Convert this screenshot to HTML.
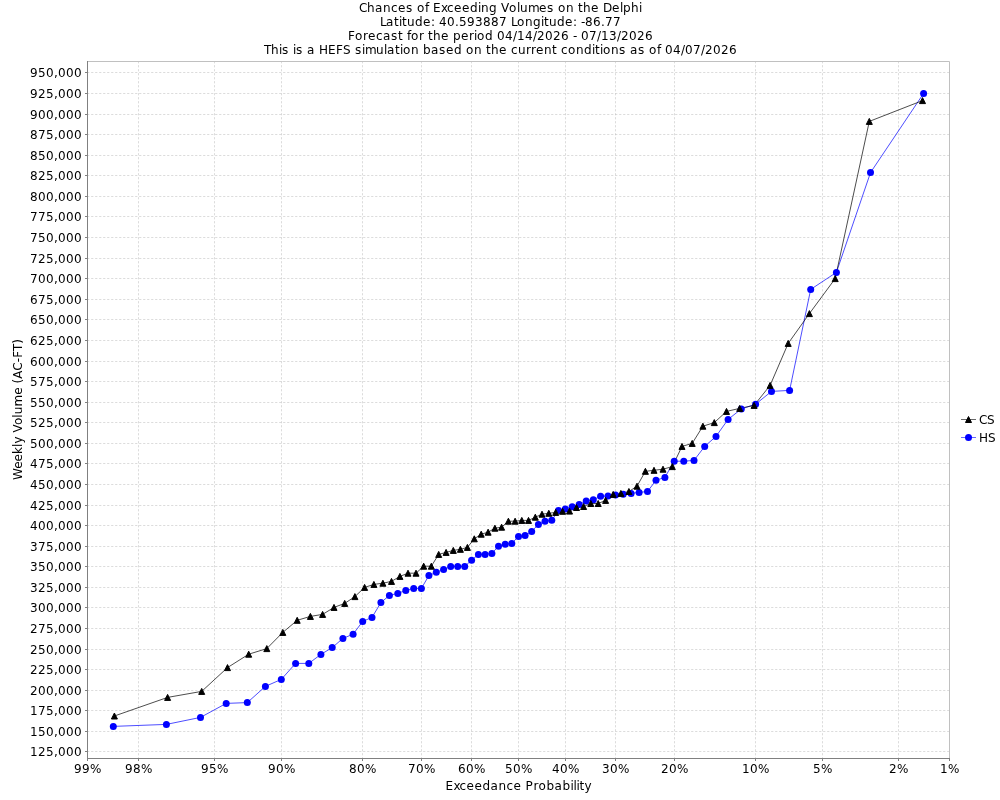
<!DOCTYPE html>
<html lang="en"><head><meta charset="utf-8"><title>Chances of Exceeding Volumes on the Delphi</title>
<style>html,body{margin:0;padding:0;background:#fff;}body{width:1000px;height:800px;overflow:hidden;}svg{display:block;} text{font-family:"DejaVu Sans", "Liberation Sans", sans-serif;font-size:12px;fill:#000;}</style></head><body>
<svg width="1000" height="800" viewBox="0 0 1000 800">
<rect x="0" y="0" width="1000" height="800" fill="#ffffff"/>
<text x="359 367 375 383 391 398 406 413 417 425 429 433 441 447 454 462 470 478 481 489 497 501 509 517 520 528 539 547 554 558 566 574 578 583 591 599 603 612 620 623 631 639" y="11.75">Chances of Exceeding Volumes on the Delphi</text>
<text x="380 386 394 399 402 407 415 423 431 435 439 447 455 459 467 475 483 491 499 507 511 517 525 533 541 544 549 557 565 573 577 581 585 593 601 605 613" y="25.75">Latitude: 40.593887 Longitude: -86.77</text>
<text x="348 355 363 368 376 383 391 398 403 407 411 419 424 428 433 441 449 453 461 469 474 477 485 493 497 505 513 517 525 533 537 545 553 561 569 573 577 581 589 597 601 609 617 621 629 637 645" y="39.75">Forecast for the period 04/14/2026 - 07/13/2026</text>
<text x="264 271 279 282 289 293 296 303 307 315 319 328 336 343 351 355 362 365 376 384 387 395 400 403 411 419 423 431 439 446 454 462 466 474 482 486 491 499 507 511 518 526 531 536 544 552 557 561 568 576 584 592 595 600 603 611 619 626 630 638 645 649 657 661 665 673 681 685 693 701 705 713 721 729" y="53.75">This is a HEFS simulation based on the current conditions as of 04/07/2026</text>
<g stroke="#b8b8b8" stroke-width="0.5" stroke-dasharray="2.2,1.8" stroke-dashoffset="0.85" fill="none" shape-rendering="auto">
<line x1="138.5" y1="62.0" x2="138.5" y2="758.0"/>
<line x1="214.5" y1="62.0" x2="214.5" y2="758.0"/>
<line x1="281.5" y1="62.0" x2="281.5" y2="758.0"/>
<line x1="362.5" y1="62.0" x2="362.5" y2="758.0"/>
<line x1="421.5" y1="62.0" x2="421.5" y2="758.0"/>
<line x1="471.5" y1="62.0" x2="471.5" y2="758.0"/>
<line x1="518.5" y1="62.0" x2="518.5" y2="758.0"/>
<line x1="565.5" y1="62.0" x2="565.5" y2="758.0"/>
<line x1="615.5" y1="62.0" x2="615.5" y2="758.0"/>
<line x1="674.5" y1="62.0" x2="674.5" y2="758.0"/>
<line x1="755.5" y1="62.0" x2="755.5" y2="758.0"/>
<line x1="822.5" y1="62.0" x2="822.5" y2="758.0"/>
<line x1="898.5" y1="62.0" x2="898.5" y2="758.0"/>
<line x1="949.5" y1="62.0" x2="949.5" y2="758.0"/>
<line x1="88.0" y1="751.5" x2="949.0" y2="751.5"/>
<line x1="88.0" y1="731.5" x2="949.0" y2="731.5"/>
<line x1="88.0" y1="710.5" x2="949.0" y2="710.5"/>
<line x1="88.0" y1="690.5" x2="949.0" y2="690.5"/>
<line x1="88.0" y1="669.5" x2="949.0" y2="669.5"/>
<line x1="88.0" y1="649.5" x2="949.0" y2="649.5"/>
<line x1="88.0" y1="628.5" x2="949.0" y2="628.5"/>
<line x1="88.0" y1="607.5" x2="949.0" y2="607.5"/>
<line x1="88.0" y1="587.5" x2="949.0" y2="587.5"/>
<line x1="88.0" y1="566.5" x2="949.0" y2="566.5"/>
<line x1="88.0" y1="546.5" x2="949.0" y2="546.5"/>
<line x1="88.0" y1="525.5" x2="949.0" y2="525.5"/>
<line x1="88.0" y1="505.5" x2="949.0" y2="505.5"/>
<line x1="88.0" y1="484.5" x2="949.0" y2="484.5"/>
<line x1="88.0" y1="463.5" x2="949.0" y2="463.5"/>
<line x1="88.0" y1="443.5" x2="949.0" y2="443.5"/>
<line x1="88.0" y1="422.5" x2="949.0" y2="422.5"/>
<line x1="88.0" y1="402.5" x2="949.0" y2="402.5"/>
<line x1="88.0" y1="381.5" x2="949.0" y2="381.5"/>
<line x1="88.0" y1="361.5" x2="949.0" y2="361.5"/>
<line x1="88.0" y1="340.5" x2="949.0" y2="340.5"/>
<line x1="88.0" y1="319.5" x2="949.0" y2="319.5"/>
<line x1="88.0" y1="299.5" x2="949.0" y2="299.5"/>
<line x1="88.0" y1="278.5" x2="949.0" y2="278.5"/>
<line x1="88.0" y1="258.5" x2="949.0" y2="258.5"/>
<line x1="88.0" y1="237.5" x2="949.0" y2="237.5"/>
<line x1="88.0" y1="216.5" x2="949.0" y2="216.5"/>
<line x1="88.0" y1="196.5" x2="949.0" y2="196.5"/>
<line x1="88.0" y1="175.5" x2="949.0" y2="175.5"/>
<line x1="88.0" y1="155.5" x2="949.0" y2="155.5"/>
<line x1="88.0" y1="134.5" x2="949.0" y2="134.5"/>
<line x1="88.0" y1="114.5" x2="949.0" y2="114.5"/>
<line x1="88.0" y1="93.5" x2="949.0" y2="93.5"/>
<line x1="88.0" y1="72.5" x2="949.0" y2="72.5"/>
</g>
<path d="M87.0 61.5H949.5V758.5" stroke="#c0c0c0" stroke-width="1" fill="none"/>
<g stroke="#808080" stroke-width="1" fill="none">
<line x1="87.5" y1="61.0" x2="87.5" y2="759.0"/>
<line x1="87.0" y1="758.5" x2="950.0" y2="758.5"/>
<line x1="87.5" y1="759.0" x2="87.5" y2="761.0"/>
<line x1="138.5" y1="759.0" x2="138.5" y2="761.0"/>
<line x1="214.5" y1="759.0" x2="214.5" y2="761.0"/>
<line x1="281.5" y1="759.0" x2="281.5" y2="761.0"/>
<line x1="362.5" y1="759.0" x2="362.5" y2="761.0"/>
<line x1="421.5" y1="759.0" x2="421.5" y2="761.0"/>
<line x1="471.5" y1="759.0" x2="471.5" y2="761.0"/>
<line x1="518.5" y1="759.0" x2="518.5" y2="761.0"/>
<line x1="565.5" y1="759.0" x2="565.5" y2="761.0"/>
<line x1="615.5" y1="759.0" x2="615.5" y2="761.0"/>
<line x1="674.5" y1="759.0" x2="674.5" y2="761.0"/>
<line x1="755.5" y1="759.0" x2="755.5" y2="761.0"/>
<line x1="822.5" y1="759.0" x2="822.5" y2="761.0"/>
<line x1="898.5" y1="759.0" x2="898.5" y2="761.0"/>
<line x1="949.5" y1="759.0" x2="949.5" y2="761.0"/>
<line x1="85.0" y1="751.5" x2="87.0" y2="751.5"/>
<line x1="85.0" y1="731.5" x2="87.0" y2="731.5"/>
<line x1="85.0" y1="710.5" x2="87.0" y2="710.5"/>
<line x1="85.0" y1="690.5" x2="87.0" y2="690.5"/>
<line x1="85.0" y1="669.5" x2="87.0" y2="669.5"/>
<line x1="85.0" y1="649.5" x2="87.0" y2="649.5"/>
<line x1="85.0" y1="628.5" x2="87.0" y2="628.5"/>
<line x1="85.0" y1="607.5" x2="87.0" y2="607.5"/>
<line x1="85.0" y1="587.5" x2="87.0" y2="587.5"/>
<line x1="85.0" y1="566.5" x2="87.0" y2="566.5"/>
<line x1="85.0" y1="546.5" x2="87.0" y2="546.5"/>
<line x1="85.0" y1="525.5" x2="87.0" y2="525.5"/>
<line x1="85.0" y1="505.5" x2="87.0" y2="505.5"/>
<line x1="85.0" y1="484.5" x2="87.0" y2="484.5"/>
<line x1="85.0" y1="463.5" x2="87.0" y2="463.5"/>
<line x1="85.0" y1="443.5" x2="87.0" y2="443.5"/>
<line x1="85.0" y1="422.5" x2="87.0" y2="422.5"/>
<line x1="85.0" y1="402.5" x2="87.0" y2="402.5"/>
<line x1="85.0" y1="381.5" x2="87.0" y2="381.5"/>
<line x1="85.0" y1="361.5" x2="87.0" y2="361.5"/>
<line x1="85.0" y1="340.5" x2="87.0" y2="340.5"/>
<line x1="85.0" y1="319.5" x2="87.0" y2="319.5"/>
<line x1="85.0" y1="299.5" x2="87.0" y2="299.5"/>
<line x1="85.0" y1="278.5" x2="87.0" y2="278.5"/>
<line x1="85.0" y1="258.5" x2="87.0" y2="258.5"/>
<line x1="85.0" y1="237.5" x2="87.0" y2="237.5"/>
<line x1="85.0" y1="216.5" x2="87.0" y2="216.5"/>
<line x1="85.0" y1="196.5" x2="87.0" y2="196.5"/>
<line x1="85.0" y1="175.5" x2="87.0" y2="175.5"/>
<line x1="85.0" y1="155.5" x2="87.0" y2="155.5"/>
<line x1="85.0" y1="134.5" x2="87.0" y2="134.5"/>
<line x1="85.0" y1="114.5" x2="87.0" y2="114.5"/>
<line x1="85.0" y1="93.5" x2="87.0" y2="93.5"/>
<line x1="85.0" y1="72.5" x2="87.0" y2="72.5"/>
</g>
<text x="30 38 46 54 58 66 74" y="755.80">125,000</text>
<text x="30 38 46 54 58 66 74" y="735.80">150,000</text>
<text x="30 38 46 54 58 66 74" y="714.80">175,000</text>
<text x="30 38 46 54 58 66 74" y="694.80">200,000</text>
<text x="30 38 46 54 58 66 74" y="673.80">225,000</text>
<text x="30 38 46 54 58 66 74" y="653.80">250,000</text>
<text x="30 38 46 54 58 66 74" y="632.80">275,000</text>
<text x="30 38 46 54 58 66 74" y="611.80">300,000</text>
<text x="30 38 46 54 58 66 74" y="591.80">325,000</text>
<text x="30 38 46 54 58 66 74" y="570.80">350,000</text>
<text x="30 38 46 54 58 66 74" y="550.80">375,000</text>
<text x="30 38 46 54 58 66 74" y="529.80">400,000</text>
<text x="30 38 46 54 58 66 74" y="509.80">425,000</text>
<text x="30 38 46 54 58 66 74" y="488.80">450,000</text>
<text x="30 38 46 54 58 66 74" y="467.80">475,000</text>
<text x="30 38 46 54 58 66 74" y="447.80">500,000</text>
<text x="30 38 46 54 58 66 74" y="426.80">525,000</text>
<text x="30 38 46 54 58 66 74" y="406.80">550,000</text>
<text x="30 38 46 54 58 66 74" y="385.80">575,000</text>
<text x="30 38 46 54 58 66 74" y="365.80">600,000</text>
<text x="30 38 46 54 58 66 74" y="344.80">625,000</text>
<text x="30 38 46 54 58 66 74" y="323.80">650,000</text>
<text x="30 38 46 54 58 66 74" y="303.80">675,000</text>
<text x="30 38 46 54 58 66 74" y="282.80">700,000</text>
<text x="30 38 46 54 58 66 74" y="262.80">725,000</text>
<text x="30 38 46 54 58 66 74" y="241.80">750,000</text>
<text x="30 38 46 54 58 66 74" y="220.80">775,000</text>
<text x="30 38 46 54 58 66 74" y="200.80">800,000</text>
<text x="30 38 46 54 58 66 74" y="179.80">825,000</text>
<text x="30 38 46 54 58 66 74" y="159.80">850,000</text>
<text x="30 38 46 54 58 66 74" y="138.80">875,000</text>
<text x="30 38 46 54 58 66 74" y="118.80">900,000</text>
<text x="30 38 46 54 58 66 74" y="97.80">925,000</text>
<text x="30 38 46 54 58 66 74" y="76.80">950,000</text>
<text x="74 82 90" y="773.00">99%</text>
<text x="125 133 141" y="773.00">98%</text>
<text x="201 209 217" y="773.00">95%</text>
<text x="268 276 284" y="773.00">90%</text>
<text x="349 357 365" y="773.00">80%</text>
<text x="408 416 424" y="773.00">70%</text>
<text x="458 466 474" y="773.00">60%</text>
<text x="505 513 521" y="773.00">50%</text>
<text x="552 560 568" y="773.00">40%</text>
<text x="602 610 618" y="773.00">30%</text>
<text x="661 669 677" y="773.00">20%</text>
<text x="742 750 758" y="773.00">10%</text>
<text x="813 821" y="773.00">5%</text>
<text x="889 897" y="773.00">2%</text>
<text x="940 948" y="773.00">1%</text>
<text x="445.5 453.5 459.5 466.5 474.5 482.5 490.5 498.5 506.5 513.5 521.5 525.5 533.5 538.5 546.5 554.5 562.5 570.5 573.5 576.5 579.5 584.5" y="789.60">Exceedance Probability</text>
<text transform="translate(21.6 409.5) rotate(-90)" text-anchor="middle" letter-spacing="0.07">Weekly Volume (AC-FT)</text>
<polyline points="113.3,726.4 166.4,724.4 200.5,717.4 226.2,703.4 247.3,702.6 265.4,686.4 281.3,679.4 295.6,663.4 308.8,663.4 320.9,654.4 332.2,647.6 342.9,638.4 353.1,634.2 362.7,621.4 372.0,617.4 380.9,602.6 389.4,595.4 397.8,593.4 405.8,590.4 413.7,588.4 421.4,588.4 428.9,575.6 436.3,572.2 443.6,569.6 450.7,566.4 457.7,566.4 464.7,566.4 471.6,560.2 478.4,554.4 485.1,554.4 491.9,553.4 498.5,546.2 505.2,544.2 511.8,543.4 518.5,536.4 525.1,535.4 531.7,531.4 538.4,524.4 545.0,521.2 551.8,520.3 558.5,510.4 565.3,509.0 572.2,506.7 579.2,504.6 586.2,501.0 593.3,499.8 600.6,496.2 608.0,496.1 615.5,495.1 623.2,494.3 631.1,493.4 639.1,492.4 647.5,491.5 656.0,480.3 664.9,477.4 674.2,461.2 683.8,461.2 694.0,460.4 704.7,446.4 716.0,436.4 728.1,419.4 741.3,409.0 755.6,404.2 771.5,391.4 789.6,390.4 810.7,289.4 836.4,272.4 870.5,172.6 923.6,93.4" fill="none" stroke="#0000ff" stroke-width="0.7"/>
<polyline points="114.4,716.0 167.6,697.4 201.7,691.4 227.5,667.6 248.7,654.2 266.8,648.6 282.8,632.4 297.2,620.3 310.4,616.4 322.6,614.4 334.0,607.4 344.7,603.4 354.9,596.6 364.6,587.4 373.9,584.4 382.9,583.2 391.5,581.4 399.9,576.4 408.0,573.2 416.0,573.2 423.7,566.2 431.3,566.2 438.7,554.4 446.1,552.4 453.3,550.4 460.4,549.3 467.4,547.4 474.3,538.8 481.2,534.2 488.1,532.2 494.9,528.2 501.6,527.2 508.4,521.2 515.1,521.2 521.8,520.4 528.5,520.4 535.3,517.2 542.0,514.2 548.8,513.3 555.7,512.4 562.6,511.3 569.5,511.1 576.5,507.5 583.6,506.5 590.8,503.5 598.2,503.5 605.6,500.4 613.2,494.4 620.9,493.4 628.9,491.5 637.0,486.2 645.4,471.3 654.0,470.3 663.0,469.2 672.3,466.6 682.0,446.4 692.2,443.4 702.9,426.2 714.3,422.6 726.5,411.4 739.7,408.4 754.1,405.4 770.1,385.4 788.2,343.4 809.4,313.6 835.2,278.6 869.3,121.4 922.5,100.6" fill="none" stroke="#000000" stroke-width="0.7"/>
<g fill="#0000ff">
<circle cx="113.3" cy="726.4" r="3.5"/>
<circle cx="166.4" cy="724.4" r="3.5"/>
<circle cx="200.5" cy="717.4" r="3.5"/>
<circle cx="226.2" cy="703.4" r="3.5"/>
<circle cx="247.3" cy="702.6" r="3.5"/>
<circle cx="265.4" cy="686.4" r="3.5"/>
<circle cx="281.3" cy="679.4" r="3.5"/>
<circle cx="295.6" cy="663.4" r="3.5"/>
<circle cx="308.8" cy="663.4" r="3.5"/>
<circle cx="320.9" cy="654.4" r="3.5"/>
<circle cx="332.2" cy="647.6" r="3.5"/>
<circle cx="342.9" cy="638.4" r="3.5"/>
<circle cx="353.1" cy="634.2" r="3.5"/>
<circle cx="362.7" cy="621.4" r="3.5"/>
<circle cx="372.0" cy="617.4" r="3.5"/>
<circle cx="380.9" cy="602.6" r="3.5"/>
<circle cx="389.4" cy="595.4" r="3.5"/>
<circle cx="397.8" cy="593.4" r="3.5"/>
<circle cx="405.8" cy="590.4" r="3.5"/>
<circle cx="413.7" cy="588.4" r="3.5"/>
<circle cx="421.4" cy="588.4" r="3.5"/>
<circle cx="428.9" cy="575.6" r="3.5"/>
<circle cx="436.3" cy="572.2" r="3.5"/>
<circle cx="443.6" cy="569.6" r="3.5"/>
<circle cx="450.7" cy="566.4" r="3.5"/>
<circle cx="457.7" cy="566.4" r="3.5"/>
<circle cx="464.7" cy="566.4" r="3.5"/>
<circle cx="471.6" cy="560.2" r="3.5"/>
<circle cx="478.4" cy="554.4" r="3.5"/>
<circle cx="485.1" cy="554.4" r="3.5"/>
<circle cx="491.9" cy="553.4" r="3.5"/>
<circle cx="498.5" cy="546.2" r="3.5"/>
<circle cx="505.2" cy="544.2" r="3.5"/>
<circle cx="511.8" cy="543.4" r="3.5"/>
<circle cx="518.5" cy="536.4" r="3.5"/>
<circle cx="525.1" cy="535.4" r="3.5"/>
<circle cx="531.7" cy="531.4" r="3.5"/>
<circle cx="538.4" cy="524.4" r="3.5"/>
<circle cx="545.0" cy="521.2" r="3.5"/>
<circle cx="551.8" cy="520.3" r="3.5"/>
<circle cx="558.5" cy="510.4" r="3.5"/>
<circle cx="565.3" cy="509.0" r="3.5"/>
<circle cx="572.2" cy="506.7" r="3.5"/>
<circle cx="579.2" cy="504.6" r="3.5"/>
<circle cx="586.2" cy="501.0" r="3.5"/>
<circle cx="593.3" cy="499.8" r="3.5"/>
<circle cx="600.6" cy="496.2" r="3.5"/>
<circle cx="608.0" cy="496.1" r="3.5"/>
<circle cx="615.5" cy="495.1" r="3.5"/>
<circle cx="623.2" cy="494.3" r="3.5"/>
<circle cx="631.1" cy="493.4" r="3.5"/>
<circle cx="639.1" cy="492.4" r="3.5"/>
<circle cx="647.5" cy="491.5" r="3.5"/>
<circle cx="656.0" cy="480.3" r="3.5"/>
<circle cx="664.9" cy="477.4" r="3.5"/>
<circle cx="674.2" cy="461.2" r="3.5"/>
<circle cx="683.8" cy="461.2" r="3.5"/>
<circle cx="694.0" cy="460.4" r="3.5"/>
<circle cx="704.7" cy="446.4" r="3.5"/>
<circle cx="716.0" cy="436.4" r="3.5"/>
<circle cx="728.1" cy="419.4" r="3.5"/>
<circle cx="741.3" cy="409.0" r="3.5"/>
<circle cx="755.6" cy="404.2" r="3.5"/>
<circle cx="771.5" cy="391.4" r="3.5"/>
<circle cx="789.6" cy="390.4" r="3.5"/>
<circle cx="810.7" cy="289.4" r="3.5"/>
<circle cx="836.4" cy="272.4" r="3.5"/>
<circle cx="870.5" cy="172.6" r="3.5"/>
<circle cx="923.6" cy="93.4" r="3.5"/>
</g>
<g fill="#000000" stroke="#000000" stroke-width="1" stroke-linejoin="miter">
<path d="M114.4 713.0l3 6h-6z"/>
<path d="M167.6 694.4l3 6h-6z"/>
<path d="M201.7 688.4l3 6h-6z"/>
<path d="M227.5 664.6l3 6h-6z"/>
<path d="M248.7 651.2l3 6h-6z"/>
<path d="M266.8 645.6l3 6h-6z"/>
<path d="M282.8 629.4l3 6h-6z"/>
<path d="M297.2 617.3l3 6h-6z"/>
<path d="M310.4 613.4l3 6h-6z"/>
<path d="M322.6 611.4l3 6h-6z"/>
<path d="M334.0 604.4l3 6h-6z"/>
<path d="M344.7 600.4l3 6h-6z"/>
<path d="M354.9 593.6l3 6h-6z"/>
<path d="M364.6 584.4l3 6h-6z"/>
<path d="M373.9 581.4l3 6h-6z"/>
<path d="M382.9 580.2l3 6h-6z"/>
<path d="M391.5 578.4l3 6h-6z"/>
<path d="M399.9 573.4l3 6h-6z"/>
<path d="M408.0 570.2l3 6h-6z"/>
<path d="M416.0 570.2l3 6h-6z"/>
<path d="M423.7 563.2l3 6h-6z"/>
<path d="M431.3 563.2l3 6h-6z"/>
<path d="M438.7 551.4l3 6h-6z"/>
<path d="M446.1 549.4l3 6h-6z"/>
<path d="M453.3 547.4l3 6h-6z"/>
<path d="M460.4 546.3l3 6h-6z"/>
<path d="M467.4 544.4l3 6h-6z"/>
<path d="M474.3 535.8l3 6h-6z"/>
<path d="M481.2 531.2l3 6h-6z"/>
<path d="M488.1 529.2l3 6h-6z"/>
<path d="M494.9 525.2l3 6h-6z"/>
<path d="M501.6 524.2l3 6h-6z"/>
<path d="M508.4 518.2l3 6h-6z"/>
<path d="M515.1 518.2l3 6h-6z"/>
<path d="M521.8 517.4l3 6h-6z"/>
<path d="M528.5 517.4l3 6h-6z"/>
<path d="M535.3 514.2l3 6h-6z"/>
<path d="M542.0 511.2l3 6h-6z"/>
<path d="M548.8 510.3l3 6h-6z"/>
<path d="M555.7 509.4l3 6h-6z"/>
<path d="M562.6 508.3l3 6h-6z"/>
<path d="M569.5 508.1l3 6h-6z"/>
<path d="M576.5 504.5l3 6h-6z"/>
<path d="M583.6 503.5l3 6h-6z"/>
<path d="M590.8 500.5l3 6h-6z"/>
<path d="M598.2 500.5l3 6h-6z"/>
<path d="M605.6 497.4l3 6h-6z"/>
<path d="M613.2 491.4l3 6h-6z"/>
<path d="M620.9 490.4l3 6h-6z"/>
<path d="M628.9 488.5l3 6h-6z"/>
<path d="M637.0 483.2l3 6h-6z"/>
<path d="M645.4 468.3l3 6h-6z"/>
<path d="M654.0 467.3l3 6h-6z"/>
<path d="M663.0 466.2l3 6h-6z"/>
<path d="M672.3 463.6l3 6h-6z"/>
<path d="M682.0 443.4l3 6h-6z"/>
<path d="M692.2 440.4l3 6h-6z"/>
<path d="M702.9 423.2l3 6h-6z"/>
<path d="M714.3 419.6l3 6h-6z"/>
<path d="M726.5 408.4l3 6h-6z"/>
<path d="M739.7 405.4l3 6h-6z"/>
<path d="M754.1 402.4l3 6h-6z"/>
<path d="M770.1 382.4l3 6h-6z"/>
<path d="M788.2 340.4l3 6h-6z"/>
<path d="M809.4 310.6l3 6h-6z"/>
<path d="M835.2 275.6l3 6h-6z"/>
<path d="M869.3 118.4l3 6h-6z"/>
<path d="M922.5 97.6l3 6h-6z"/>
</g>
<line x1="961" y1="419.5" x2="976" y2="419.5" stroke="#000" stroke-width="0.6"/>
<path d="M968.5 416.5l3 6h-6z" fill="#000" stroke="#000" stroke-width="1"/>
<text x="979 987" y="423.70">CS</text>
<line x1="961" y1="437.5" x2="976" y2="437.5" stroke="#0000ff" stroke-width="0.6"/>
<circle cx="968.5" cy="437.5" r="3.5" fill="#0000ff"/>
<text x="979 988" y="441.70">HS</text>
</svg></body></html>
